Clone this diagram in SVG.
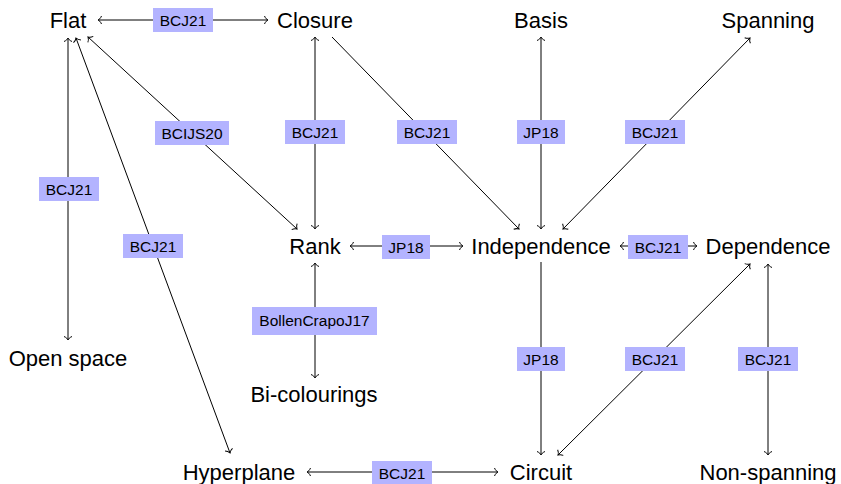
<svg xmlns="http://www.w3.org/2000/svg" width="841" height="484" viewBox="0 0 841 484">
<style>
.n{font-family:"Liberation Sans",Arial,sans-serif;font-size:22px;fill:#000;text-anchor:middle}
.e{fill:none;stroke:#000;stroke-width:1}
.lb rect{fill:#b3b3ff;stroke:none}
.lb text{font-family:"Liberation Sans",Arial,sans-serif;font-size:15.5px;fill:#000;text-anchor:middle}
</style>
<defs>
<marker id="a" viewBox="-5 -5 6 10" refX="0" refY="0" markerWidth="6" markerHeight="10" markerUnits="userSpaceOnUse" orient="auto-start-reverse">
<path d="M-3.5,-4 C-2.5,-1.5 -1,-0.5 0,0 C-1,0.5 -2.5,1.5 -3.5,4" fill="none" stroke="#000" stroke-width="1"/>
</marker>
</defs>
<rect width="841" height="484" fill="#fff"/>
<g id="connectors">
<path class="e" d="M98,20 L268,20" marker-start="url(#a)" marker-end="url(#a)"/>
<path class="e" d="M315,37 L315,229" marker-start="url(#a)" marker-end="url(#a)"/>
<path class="e" d="M88,37 L297,229" marker-start="url(#a)" marker-end="url(#a)"/>
<path class="e" d="M68,38 L68,340" marker-start="url(#a)" marker-end="url(#a)"/>
<path class="e" d="M76,38 L230,453" marker-start="url(#a)" marker-end="url(#a)"/>
<path class="e" d="M332,37 L519,229" marker-end="url(#a)"/>
<path class="e" d="M541,37 L541,229" marker-start="url(#a)" marker-end="url(#a)"/>
<path class="e" d="M750,38 L563,229" marker-start="url(#a)" marker-end="url(#a)"/>
<path class="e" d="M350,246 L463,246" marker-start="url(#a)" marker-end="url(#a)"/>
<path class="e" d="M620,246 L697,246" marker-start="url(#a)" marker-end="url(#a)"/>
<path class="e" d="M315,263 L315,378" marker-start="url(#a)" marker-end="url(#a)"/>
<path class="e" d="M541,262 L541,455" marker-end="url(#a)"/>
<path class="e" d="M750,264 L558,455" marker-start="url(#a)" marker-end="url(#a)"/>
<path class="e" d="M768,264 L768,455" marker-start="url(#a)" marker-end="url(#a)"/>
<path class="e" d="M307,472 L498,472" marker-start="url(#a)" marker-end="url(#a)"/>
<g class="lb">
<rect x="153" y="8" width="60" height="24"/><text x="183" y="25.5">BCJ21</text>
<rect x="285" y="120" width="60" height="24"/><text x="315" y="137.5">BCJ21</text>
<rect x="155" y="121" width="74" height="24"/><text x="192" y="138.5">BCIJS20</text>
<rect x="39" y="177" width="60" height="24"/><text x="69" y="194.5">BCJ21</text>
<rect x="123" y="234" width="60" height="24"/><text x="153" y="251.5">BCJ21</text>
<rect x="397" y="120" width="60" height="24"/><text x="427" y="137.5">BCJ21</text>
<rect x="517" y="120" width="48" height="24"/><text x="541" y="137.5">JP18</text>
<rect x="625" y="120" width="60" height="24"/><text x="655" y="137.5">BCJ21</text>
<rect x="382" y="235" width="48" height="24"/><text x="406" y="252.5">JP18</text>
<rect x="628" y="235" width="60" height="24"/><text x="658" y="252.5">BCJ21</text>
<rect x="252" y="307" width="125" height="28"/><text x="314.5" y="325.5">BollenCrapoJ17</text>
<rect x="517" y="347" width="48" height="24"/><text x="541" y="364.5">JP18</text>
<rect x="625" y="347" width="60" height="24"/><text x="655" y="364.5">BCJ21</text>
<rect x="738" y="347" width="60" height="24"/><text x="768" y="364.5">BCJ21</text>
<rect x="372" y="461" width="60" height="24"/><text x="402" y="478.5">BCJ21</text>
</g>
</g>
<g id="flat"><text class="n" x="68" y="28">Flat</text></g>
<g id="closure"><text class="n" x="315" y="28">Closure</text></g>
<g id="basis"><text class="n" x="541" y="28">Basis</text></g>
<g id="spanning"><text class="n" x="768" y="28">Spanning</text></g>
<g id="rank"><text class="n" x="315" y="254">Rank</text></g>
<g id="independence"><text class="n" x="541" y="254">Independence</text></g>
<g id="dependence"><text class="n" x="768" y="254">Dependence</text></g>
<g id="openspace"><text class="n" x="68" y="366">Open space</text></g>
<g id="bicolourings"><text class="n" x="314" y="402">Bi-colourings</text></g>
<g id="hyperplane"><text class="n" x="239" y="480">Hyperplane</text></g>
<g id="circuit"><text class="n" x="541" y="480">Circuit</text></g>
<g id="nonspanning"><text class="n" x="768" y="480">Non-spanning</text></g>
</svg>
